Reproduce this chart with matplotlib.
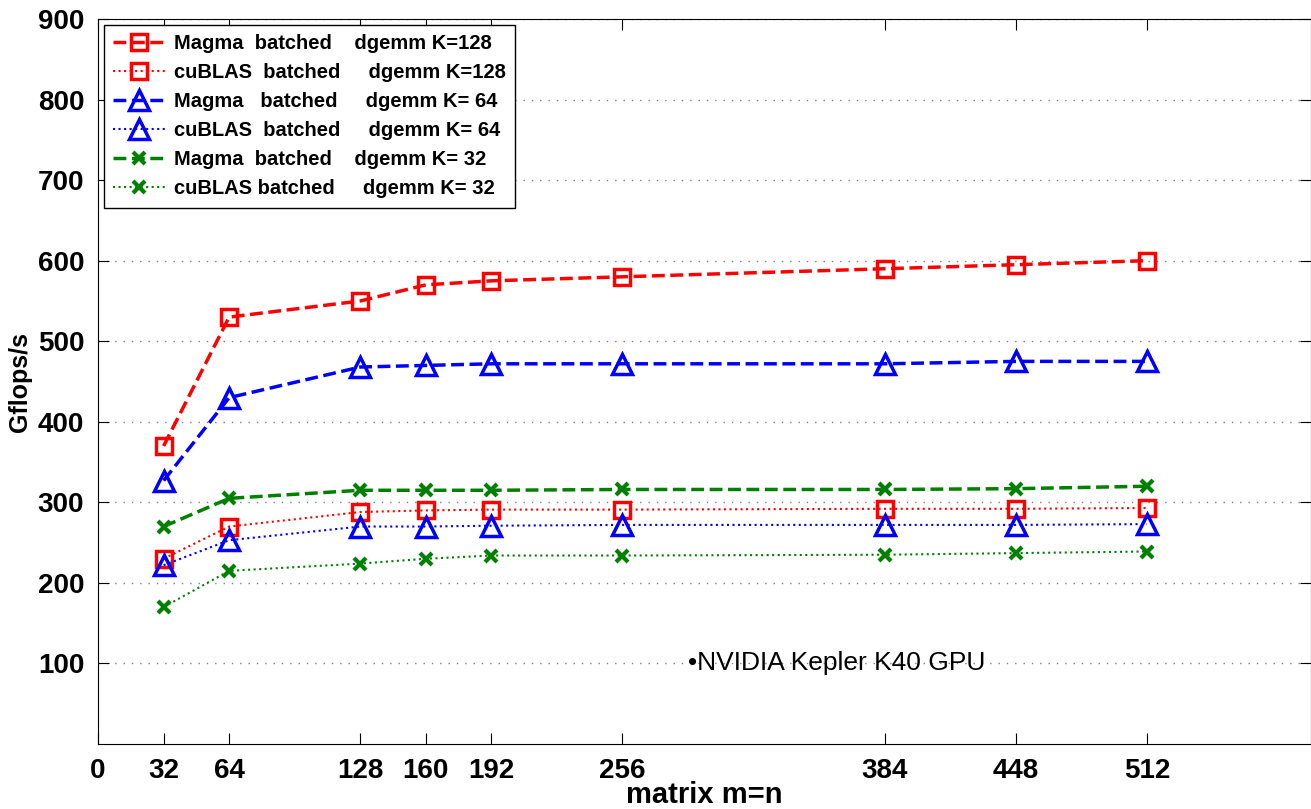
import matplotlib.pyplot as plt
import numpy as np

plt.rcParams["font.family"] = ["Liberation Sans", "DejaVu Sans"]
plt.rcParams["font.weight"] = "bold"

sizes = [32, 64, 128, 160, 192, 256, 384, 448, 512]

magma_128 = [370, 530, 550, 570, 575, 580, 590, 595, 600]
cublas_128 = [230, 270, 288, 290, 291, 291, 292, 292, 293]
magma_64 = [327, 430, 468, 470, 472, 472, 472, 475, 475]
cublas_64 = [222, 253, 270, 270, 271, 272, 272, 272, 273]
magma_32 = [270, 305, 315, 315, 315, 316, 316, 317, 320]
cublas_32 = [170, 215, 224, 230, 234, 234, 235, 237, 239]

x_ticks = [0, 32, 64, 128, 160, 192, 256, 384, 448, 512]
y_ticks = [100, 200, 300, 400, 500, 600, 700, 800, 900]

fig = plt.figure(figsize=(13.11, 8.09), dpi=100)
ax = fig.add_axes([0.0748, 0.0803, 0.925, 0.8962])

ax.plot(sizes, magma_128, "--", color="red", lw=2.5, marker="s", ms=11,
        mfc="none", mew=2.5, label="Magma  batched    dgemm K=128")
ax.plot(sizes, cublas_128, ":", color="red", lw=1.5, marker="s", ms=11,
        mfc="none", mew=2.5, label="cuBLAS  batched     dgemm K=128")
ax.plot(sizes, magma_64, "--", color="blue", lw=2.5, marker="^", ms=14,
        mfc="none", mew=2.5, label="Magma   batched     dgemm K= 64")
ax.plot(sizes, cublas_64, ":", color="blue", lw=1.5, marker="^", ms=14,
        mfc="none", mew=2.5, label="cuBLAS  batched     dgemm K= 64")
ax.plot(sizes, magma_32, "--", color="green", lw=2.5, marker="x", ms=8,
        mew=3, label="Magma  batched    dgemm K= 32")
ax.plot(sizes, cublas_32, ":", color="green", lw=1.5, marker="x", ms=8,
        mew=3, label="cuBLAS batched     dgemm K= 32")

ax.text(288, 100, "\u2022NVIDIA Kepler K40 GPU", fontsize=19,
        fontweight="normal", va="center", ha="left")

ax.set_xlim(0, 592)
ax.set_ylim(0, 900)
ax.set_xticks(x_ticks)
ax.set_yticks(y_ticks)
ax.tick_params(direction="in", length=8, labelsize=20, top=True, right=True,
               width=0.8, pad=10)
ax.yaxis.grid(True, linestyle=(0, (1, 5)), color="gray", lw=1)
ax.set_xlabel("matrix m=n", fontsize=21, fontweight="bold", labelpad=-2)
ax.set_ylabel("Gflops/s", fontsize=18, fontweight="bold")

leg = ax.legend(loc="upper left", fontsize=14.5, handlelength=2.6,
                handletextpad=0.4, fancybox=False, edgecolor="black",
                framealpha=1, borderaxespad=0.3, labelspacing=0.5,
                borderpad=0.45)
leg.get_frame().set_linewidth(1)

fig.savefig("out.png", dpi=100)
